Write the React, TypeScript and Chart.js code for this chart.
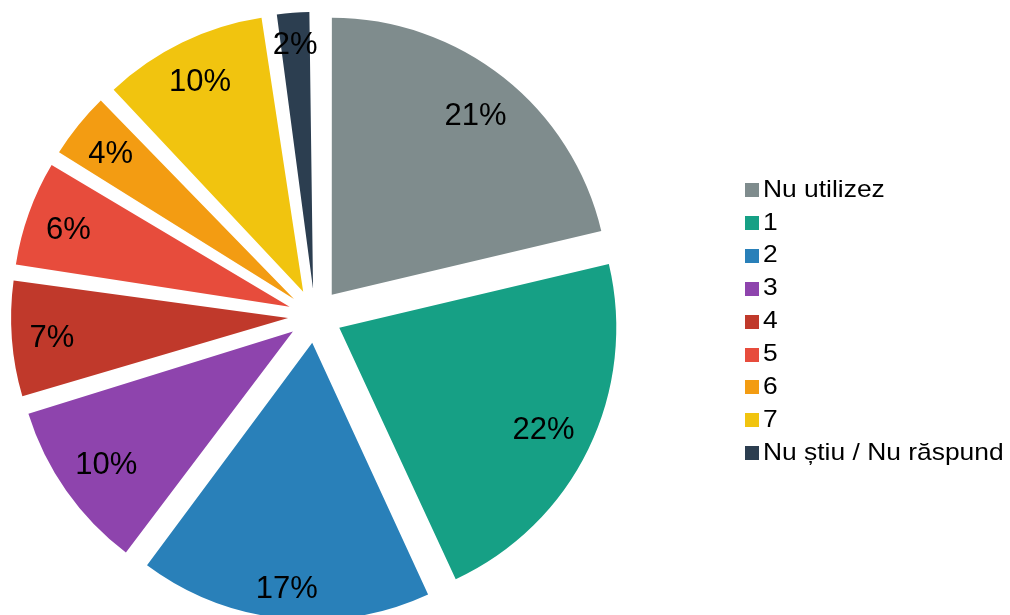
import React, { useEffect, useRef } from 'react';
import { Chart, registerables } from 'chart.js';

Chart.register(...registerables);

const categories = ['Nu utilizez', '1', '2', '3', '4', '5', '6', '7', 'Nu știu / Nu răspund'];
// shares (%); labels show them rounded
const values = [21.3, 21.8, 17.1, 10.1, 7.0, 6.4, 4.2, 9.8, 2.3];
const colors = ['#7f8c8d', '#16a085', '#2980b9', '#8e44ad', '#c0392b', '#e74c3c', '#f39c12', '#f1c40f', '#2c3e50'];

const FONT = '"Liberation Sans", Arial, Helvetica, sans-serif';
const RADIUS = 277;
const EXPLODE = 27; // radial translation of every slice in px
const LABEL_MARGIN = 17;

const fixOf = (circ: number) => 1 - Math.sin(Math.min(Math.PI, circ || 0));

// keep every slice the same radius despite Chart.js's small-slice radius boost
const radiusPlugin = {
  id: 'uniformRadius',
  beforeDatasetsDraw(chart: any) {
    const meta = chart.getDatasetMeta(0);
    meta.data.forEach((arc: any) => {
      arc.outerRadius = RADIUS - EXPLODE * fixOf(arc.circumference);
    });
  },
};

const labelPlugin = {
  id: 'sliceLabels',
  afterDatasetsDraw(chart: any) {
    const ctx = chart.ctx as CanvasRenderingContext2D;
    const meta = chart.getDatasetMeta(0);
    const data = chart.data.datasets[0].data as number[];
    const total = data.reduce((a, b) => a + b, 0);
    ctx.save();
    ctx.font = `31px ${FONT}`;
    ctx.fillStyle = '#000000';
    ctx.textAlign = 'center';
    ctx.textBaseline = 'middle';
    meta.data.forEach((arc: any, i: number) => {
      const { x, y, startAngle, endAngle } = arc;
      const mid = (startAngle + endAngle) / 2;
      const c = Math.cos(mid);
      const s = Math.sin(mid);
      const text = `${Math.round((data[i] / total) * 100)}%`;
      const hw = ctx.measureText(text).width / 2;
      const hh = 11.5;
      const d = RADIUS + EXPLODE - LABEL_MARGIN - (hw * Math.abs(c) + hh * Math.abs(s));
      ctx.fillText(text, x + c * d, y + s * d + 3);
    });
    ctx.restore();
  },
};

const legendPlugin = {
  id: 'sideLegend',
  afterDraw(chart: any) {
    const ctx = chart.ctx as CanvasRenderingContext2D;
    const labels = chart.data.labels as string[];
    const bg = chart.data.datasets[0].backgroundColor as string[];
    ctx.save();
    ctx.font = `24px ${FONT}`;
    ctx.textAlign = 'left';
    ctx.textBaseline = 'middle';
    labels.forEach((label, i) => {
      const cy = 190 + i * 32.9;
      ctx.fillStyle = bg[i];
      ctx.fillRect(745, Math.round(cy - 7), 14, 14);
      ctx.save();
      ctx.translate(763, cy);
      ctx.scale(1.1, 1);
      ctx.fillStyle = '#000000';
      ctx.fillText(label, 0, 0);
      ctx.restore();
    });
    ctx.restore();
  },
};

export default function App() {
  const canvasRef = useRef<HTMLCanvasElement | null>(null);

  useEffect(() => {
    document.body.style.margin = '0';
    const canvas = canvasRef.current;
    if (!canvas) return;
    const chart = new Chart(canvas, {
      type: 'pie',
      data: {
        labels: categories,
        datasets: [
          {
            data: values,
            backgroundColor: colors,
            borderWidth: 0,
            offset: EXPLODE * 4,
          },
        ],
      },
      options: {
        responsive: false,
        animation: false,
        radius: RADIUS,
        layout: { padding: { left: 23, top: 24, right: 403, bottom: 7 } },
        plugins: {
          legend: { display: false },
          tooltip: { enabled: false },
        },
      },
      plugins: [radiusPlugin, labelPlugin, legendPlugin],
    } as any);
    return () => chart.destroy();
  }, []);

  return (
    <div style={{ width: 1010, height: 615, background: '#ffffff' }}>
      <canvas ref={canvasRef} width={1010} height={615} style={{ display: 'block' }} />
    </div>
  );
}
